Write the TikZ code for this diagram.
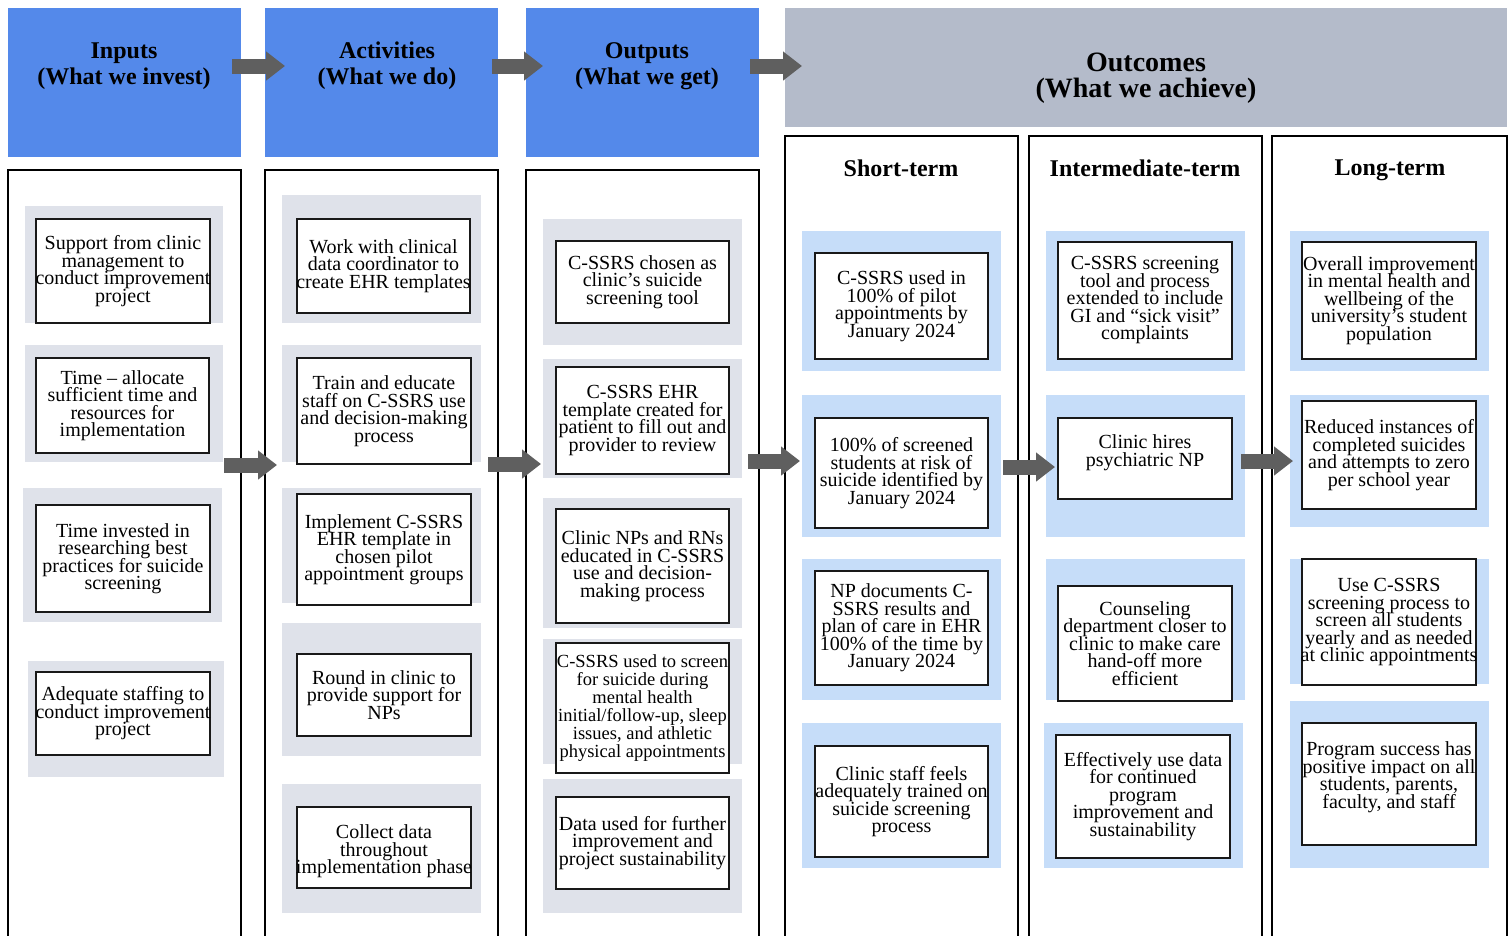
\documentclass[tikz,border=0pt]{standalone}
\usepackage{fontspec}
\setmainfont{Liberation Serif}
\usepackage{xcolor}
\definecolor{cHead}{HTML}{5489EA}
\definecolor{cOutc}{HTML}{B4BBCA}
\definecolor{cPanel}{HTML}{DFE2EA}
\definecolor{cPanelB}{HTML}{C6DDF9}
\definecolor{cArrow}{HTML}{5F5F5F}
\usepackage{tikz}
\usetikzlibrary{arrows.meta}
\tikzset{
  text raise/.store in=\itraise,
  hdr-box/.style={fill=cHead,draw=none,inner sep=0pt},
  hdr-outc/.style={fill=cOutc,draw=none,inner sep=0pt},
  hdr-text/.style={align=center,font=\fontsize{24}{26}\selectfont\bfseries},
  col-frame/.style={draw=black,line width=2pt},
  col-title/.style={font=\fontsize{24}{26}\selectfont\bfseries},
  panel-gray/.style={fill=cPanel},
  panel-blue/.style={fill=cPanelB},
  item/.style={draw=black!90,line width=2pt,fill=white,text raise=0pt,
    inner sep=0pt,font=\fontsize{20}{17.5}\selectfont},
  flow/.style={-{Triangle[length=19pt,width=28pt]},line width=15pt,draw=cArrow},
}
% [extra keys] box name / x1 / y1 / x2 / y2 / text  (pixel grid, y downwards)
% lines are centred on the box, wide lines may run over both sides
\newcommand{\itembox}[7][]{%
  \pgfmathsetmacro{\itw}{#5-#3}%
  \node[item,minimum width=\itw,minimum height={#6-#4},#1] (#2)
    at ({(#3+#5)/2},{(#4+#6)/2})
    {\raisebox{\itraise}[\height][\depth]{\makebox[\itw pt]{\vbox{%
      \lineskiplimit=-100pt\def\\{\cr}\halign{\hfil##\hfil\cr#7\crcr}}}}};}

\begin{document}
\begin{tikzpicture}[x=1pt,y=-1pt]
  \useasboundingbox (0,0) rectangle (1512,935);

  % header row
  \node[hdr-box,minimum width=233,minimum height=149] (h-in) at (124.5,82.5) {};
  \node[hdr-box,minimum width=233,minimum height=149] (h-ac) at (381.5,82.5) {};
  \node[hdr-box,minimum width=233,minimum height=149] (h-ou) at (642.5,82.5) {};
  \node[hdr-outc,minimum width=722,minimum height=119] (h-oc) at (1146,67.5) {};
  \node[hdr-text] (t-in) at (124,66) {Inputs\\(What we invest)};
  \node[hdr-text] (t-ac) at (387,66) {Activities\\(What we do)};
  \node[hdr-text] (t-ou) at (647,66) {Outputs\\(What we get)};
  \node[hdr-text,font=\fontsize{28}{26}\selectfont\bfseries] (t-oc) at (1146,78)
    {Outcomes\\(What we achieve)};

  % column frames (open at the bottom)
  \foreach \xa/\xb/\yt in {8/241/170, 265/498/170, 526/759/170,
      785/1018/136, 1029/1262/136, 1272/1507/136}
    \draw[col-frame] (\xa,945) -- (\xa,\yt) -- (\xb,\yt) -- (\xb,945);
  \node[col-title] (t-short) at (901,168) {Short-term};
  \node[col-title] (t-inter) at (1145,168) {Intermediate-term};
  \node[col-title] (t-long) at (1390,170) {Long-term};

  % backing panels
  \foreach \xa/\ya/\xb/\yb in {25/206/223/323, 25/345/223/462, 23/488/222/622,
      28/661/224/777, 282/195/481/323, 282/345/481/462, 282/488/481/603,
      282/623/481/756, 282/784/481/913, 543/219/742/345, 543/359/742/478,
      543/498/742/628, 543/639/742/764, 543/779/742/913}
    \fill[panel-gray] (\xa,\ya) rectangle (\xb,\yb);
  \foreach \xa/\ya/\xb/\yb in {802/231/1001/371, 802/395/1001/537,
      802/559/1001/700, 802/723/1001/868, 1046/231/1245/371, 1046/395/1245/537,
      1046/559/1245/700, 1044/723/1243/868, 1290/231/1489/371,
      1290/395/1489/527, 1290/559/1489/684, 1290/701/1489/868}
    \fill[panel-blue] (\xa,\ya) rectangle (\xb,\yb);

  % inputs
  \itembox{in-1}{36}{219}{210}{323}{Support from clinic\\management to\\conduct improvement\\project}
  \itembox{in-2}{36}{358}{209}{453}{Time – allocate\\sufficient time and\\resources for\\implementation}
  \itembox{in-3}{36}{505}{210}{612}{Time invested in\\researching best\\practices for suicide\\screening}
  \itembox{in-4}{36}{672}{210}{755}{Adequate staffing to\\conduct improvement\\project}

  % activities
  \itembox{ac-1}{297}{219}{470}{313}{Work with clinical\\data coordinator to\\create EHR templates}
  \itembox{ac-2}{297}{358}{471}{464}{Train and educate\\staff on C-SSRS use\\and decision-making\\process}
  \itembox{ac-3}{297}{494}{471}{605}{Implement C-SSRS\\EHR template in\\chosen pilot\\appointment groups}
  \itembox{ac-4}{297}{654}{471}{736}{Round in clinic to\\provide support for\\NPs}
  \itembox[text raise=-4pt]{ac-5}{297}{807}{471}{888}{Collect data\\throughout\\implementation phase}

  % outputs
  \itembox{ou-1}{556}{241}{729}{323}{C-SSRS chosen as\\clinic’s suicide\\screening tool}
  \itembox{ou-2}{556}{367}{729}{474}{C-SSRS EHR\\template created for\\patient to fill out and\\provider to review}
  \itembox{ou-3}{556}{509}{729}{623}{Clinic NPs and RNs\\educated in C-SSRS\\use and decision-\\making process}
  \itembox[font=\fontsize{18.5}{18}\selectfont]{ou-4}{556}{643}{729}{773}{C-SSRS used to screen\\for suicide during\\mental health\\initial/follow-up, sleep\\issues, and athletic\\physical appointments}
  \itembox{ou-5}{556}{797}{729}{889}{Data used for further\\improvement and\\project sustainability}

  % short-term
  \itembox{sh-1}{815}{253}{988}{359}{C-SSRS used in\\100\% of pilot\\appointments by\\January 2024}
  \itembox{sh-2}{815}{418}{988}{528}{100\% of screened\\students at risk of\\suicide identified by\\January 2024}
  \itembox{sh-3}{815}{571}{988}{685}{NP documents C-\\SSRS results and\\plan of care in EHR\\100\% of the time by\\January 2024}
  \itembox{sh-4}{815}{746}{988}{857}{Clinic staff feels\\adequately trained on\\suicide screening\\process}

  % intermediate-term
  \itembox{im-1}{1058}{242}{1232}{359}{C-SSRS screening\\tool and process\\extended to include\\GI and “sick visit”\\complaints}
  \itembox[text raise=6pt]{im-2}{1058}{418}{1232}{499}{Clinic hires\\psychiatric NP}
  \itembox{im-3}{1058}{586}{1232}{701}{Counseling\\department closer to\\clinic to make care\\hand-off more\\efficient}
  \itembox{im-4}{1056}{735}{1230}{858}{Effectively use data\\for continued\\program\\improvement and\\sustainability}

  % long-term
  \itembox{lo-1}{1302}{242}{1476}{359}{Overall improvement\\in mental health and\\wellbeing of the\\university’s student\\population}
  \itembox{lo-2}{1302}{401}{1476}{509}{Reduced instances of\\completed suicides\\and attempts to zero\\per school year}
  \itembox{lo-3}{1302}{559}{1476}{685}{Use C-SSRS\\screening process to\\screen all students\\yearly and as needed\\at clinic appointments}
  \itembox[text raise=7pt]{lo-4}{1302}{723}{1476}{845}{Program success has\\positive impact on all\\students, parents,\\faculty, and staff}

  % flow arrows
  \foreach \xa/\xb/\yy [count=\i] in {232/285/66, 492/543/66, 750/802/66,
      224/277/465, 488/541/464, 748/800/461, 1003/1055/467, 1241/1293/461} {
    \coordinate (f\i-s) at (\xa,\yy);
    \coordinate (f\i-e) at (\xb,\yy);
    \draw[flow] (f\i-s) -- (f\i-e);
  }
\end{tikzpicture}
\end{document}
